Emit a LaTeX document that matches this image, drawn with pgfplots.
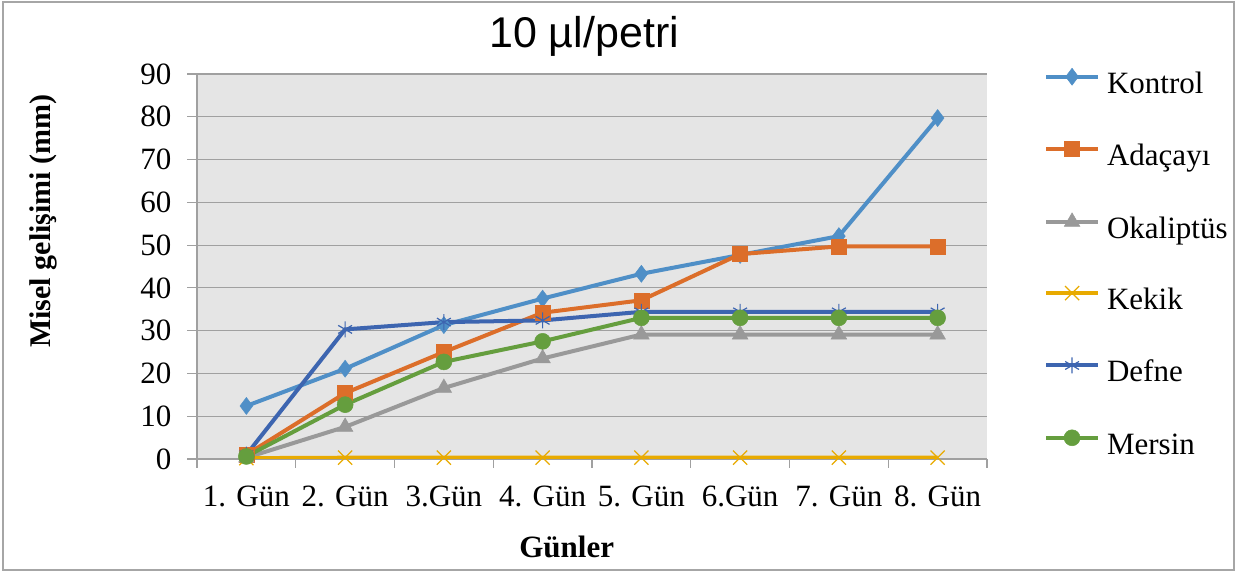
\documentclass[border=0pt]{standalone}
\usepackage{fontspec}
\setmainfont{Liberation Serif}
\newfontfamily\titlefont{Liberation Sans}
\usepackage{pgfplots}
\pgfplotsset{compat=1.18}
\definecolor{ckon}{HTML}{4F8FC7}
\definecolor{cada}{HTML}{DC6E2A}
\definecolor{coka}{HTML}{999999}
\definecolor{ckek}{HTML}{E8AA00}
\definecolor{cdef}{HTML}{3D65B0}
\definecolor{cmer}{HTML}{659E3E}
\definecolor{cgrid}{HTML}{A0A0A0}
\definecolor{cbg}{HTML}{E5E5E5}
\begin{document}
\begin{tikzpicture}
\path[use as bounding box] (0,0) rectangle (1252bp,574bp);
\draw[line width=1.2bp, color=gray!70] (3bp,4bp) rectangle (1234bp,572bp);
\begin{axis}[
  at={(197bp,115bp)}, anchor=south west,
  scale only axis, width=790bp, height=385bp,
  xmin=0, xmax=8, ymin=0, ymax=90,
  xtick={0.5,1.5,...,7.5},
  xticklabels={1. Gün,2. Gün,3.Gün,4. Gün,5. Gün,6.Gün,7. Gün,8. Gün},
  minor xtick={0,1,...,8},
  ytick={0,10,...,90},
  tick align=outside,
  major tick length=10bp, minor tick length=9bp,
  major x tick style={draw=none},
  minor x tick style={draw=cgrid, line width=1.2bp},
  major y tick style={draw=cgrid, line width=1.2bp},
  axis lines*=left,
  axis line style={draw=cgrid, line width=1.2bp},
  ymajorgrids, grid style={draw=cgrid, line width=1.2bp},
  axis background/.style={fill=cbg},
  /pgf/number format/assume math mode=true,
  tick label style={font=\fontsize{31bp}{37bp}\selectfont, text=black},
  yticklabel style={xshift=-12bp},
  xticklabel style={yshift=-13bp},
  xlabel={Günler},
  xlabel style={at={(axis description cs:0.468,-0.257)}, anchor=base, font=\fontsize{31bp}{37bp}\selectfont\bfseries},
  ylabel={Misel gelişimi (mm)},
  ylabel style={at={(axis description cs:-0.186,0.618)}, anchor=base, rotate=0, font=\fontsize{30bp}{36bp}\selectfont\bfseries},
  title={10 µl/petri},
  title style={at={(axis description cs:0.49,1.0545)}, anchor=base, font=\titlefont\fontsize{43bp}{50bp}\selectfont},
  legend cell align=left,
  legend style={at={(axis description cs:1.072,1.0156)}, anchor=north west, draw=none, fill=none, inner sep=0pt,
    row sep=38.8bp, column sep=7bp,
    nodes={inner sep=0pt, text height=22bp, text depth=9bp, font=\fontsize{31bp}{37bp}\selectfont}},
  legend image code/.code={\draw[mark repeat=2, mark phase=2, #1] plot coordinates {(0bp,10bp) (26bp,10bp) (52bp,10bp)};},
  every axis plot/.append style={line width=4bp},
]
\addplot[color=ckon, mark=diamond*, mark size=8.5bp, mark options={solid, line width=0.5bp}] coordinates {
(0.5,12.4) (1.5,21.1) (2.5,31.3) (3.5,37.5) (4.5,43.3) (5.5,47.7) (6.5,52.1) (7.5,79.7)};
\addlegendentry{Kontrol}
\addplot[color=cada, mark=square*, mark size=7.5bp, mark options={solid, line width=0.5bp}] coordinates {
(0.5,1.0) (1.5,15.4) (2.5,25.0) (3.5,34.2) (4.5,37.1) (5.5,47.9) (6.5,49.7) (7.5,49.7)};
\addlegendentry{Adaçayı}
\addplot[color=coka, mark=triangle*, mark size=9bp, mark options={solid, line width=0.5bp}] coordinates {
(0.5,0.3) (1.5,7.5) (2.5,16.6) (3.5,23.5) (4.5,29.1) (5.5,29.1) (6.5,29.1) (7.5,29.1)};
\addlegendentry{Okaliptüs}
\addplot[color=ckek, mark=x, mark size=10bp, mark options={solid, line width=1.2bp}] coordinates {
(0.5,0.2) (1.5,0.3) (2.5,0.3) (3.5,0.3) (4.5,0.3) (5.5,0.3) (6.5,0.3) (7.5,0.3)};
\addlegendentry{Kekik}
\addplot[color=cdef, mark=asterisk, mark size=8bp, mark options={solid, line width=1.2bp}] coordinates {
(0.5,1.0) (1.5,30.3) (2.5,32.0) (3.5,32.4) (4.5,34.4) (5.5,34.4) (6.5,34.4) (7.5,34.4)};
\addlegendentry{Defne}
\addplot[color=cmer, mark=*, mark size=8bp, mark options={solid, line width=0.5bp}] coordinates {
(0.5,0.6) (1.5,12.7) (2.5,22.7) (3.5,27.5) (4.5,33.0) (5.5,33.0) (6.5,33.0) (7.5,33.0)};
\addlegendentry{Mersin}
\end{axis}
\end{tikzpicture}
\end{document}
